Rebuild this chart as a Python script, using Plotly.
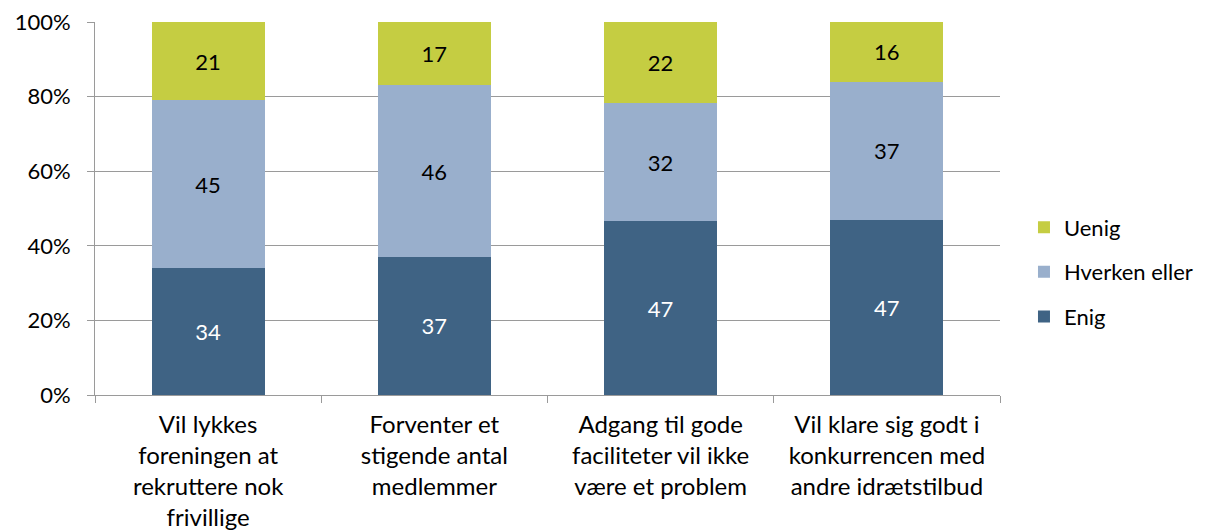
import plotly.graph_objects as go

categories = [
    "Vil lykkes<br>foreningen at<br>rekruttere nok<br>frivillige",
    "Forventer et<br>stigende antal<br>medlemmer",
    "Adgang til gode<br>faciliteter vil ikke<br>være et problem",
    "Vil klare sig godt i<br>konkurrencen med<br>andre idrætstilbud",
]
enig = [34, 37, 47, 47]
hverken = [45, 46, 32, 37]
uenig = [21, 17, 22, 16]
y_ticks = [0, 20, 40, 60, 80, 100]

series = [
    ("Enig", enig, "#3F6384", "white", 3),
    ("Hverken eller", hverken, "#99AFCC", "black", 2),
    ("Uenig", uenig, "#C5CD42", "black", 1),
]

FONT = "Lato, 'Open Sans', sans-serif"
GRID = "#9A9A9A"

fig = go.Figure()
for i, (name, vals, color, tcol, rank) in enumerate(series):
    fig.add_trace(go.Bar(
        x=categories, y=vals, name=name,
        marker=dict(color=color, line=dict(width=0)),
        text=[str(v) for v in vals],
        textposition="inside", insidetextanchor="middle", textangle=0,
        textfont=dict(color=tcol, size=22, family=FONT),
        legendgroup=f"g{i}", legendrank=rank,
        hoverinfo="skip",
    ))

# page body has an 8px margin, so the figure is offset by 8px (left and top)
fig.update_layout(
    width=1202, height=524,
    barmode="stack", barnorm="percent", bargap=0.5,
    paper_bgcolor="white", plot_bgcolor="white",
    margin=dict(l=87, r=210, t=14, b=137, autoexpand=False),
    font=dict(family=FONT, size=21, color="black"),
    legend=dict(
        x=1.0265, y=0.33, xanchor="left", yanchor="middle",
        traceorder="grouped", tracegroupgap=13,
        font=dict(size=22, family=FONT, color="black"),
        bgcolor="rgba(0,0,0,0)",
    ),
    showlegend=True,
)
fig.update_yaxes(
    range=[0, 100], tickvals=y_ticks, ticktext=[f"{v}%" for v in y_ticks],
    ticklabeloverflow="allow",
    showgrid=True, gridcolor=GRID, gridwidth=1,
    showline=True, linecolor=GRID, linewidth=1,
    ticks="outside", ticklen=7, tickcolor=GRID,
    ticklabelstandoff=12,
    tickfont=dict(size=22, family=FONT),
    zeroline=False, automargin=False,
)
fig.update_xaxes(
    showline=True, linecolor=GRID, linewidth=1,
    ticks="outside", ticklen=7, tickcolor=GRID, tickson="boundaries",
    ticklabelstandoff=8, ticklabeloverflow="allow",
    tickfont=dict(size=24, family=FONT),
    showgrid=False, automargin=False,
)

fig.write_html("out.html")
